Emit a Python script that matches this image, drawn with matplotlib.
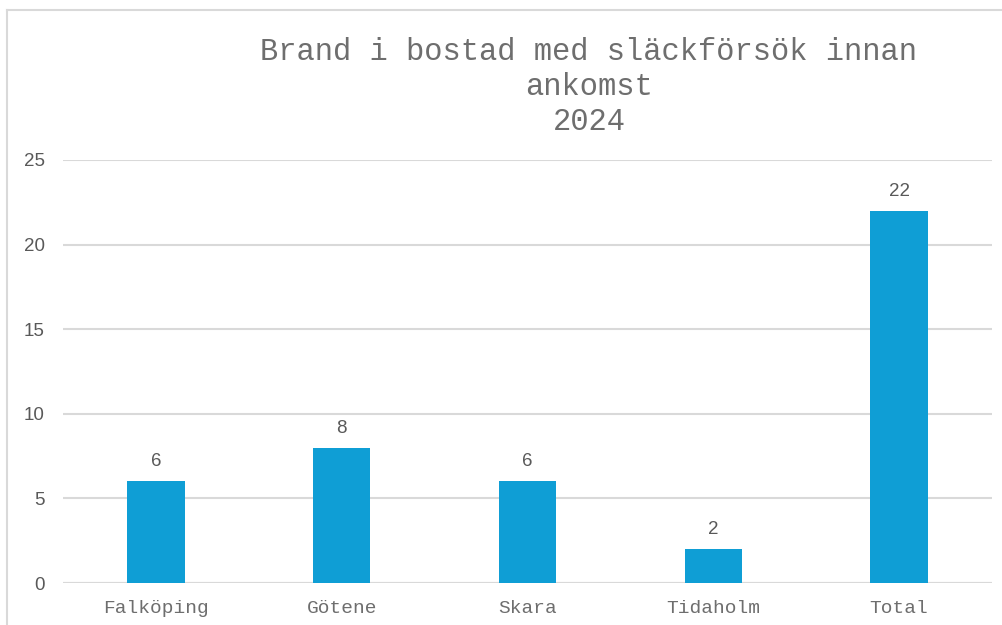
import matplotlib.pyplot as plt
from matplotlib.lines import Line2D

kategorier = ['Falköping', 'Götene', 'Skara', 'Tidaholm', 'Total']
antal = [6, 8, 6, 2, 22]
y_ticks = [0, 5, 10, 15, 20, 25]

textfarg = '#595959'
monofarg = '#6e6e6e'
stapelfarg = '#0f9ed5'
rutnat = '#d9d9d9'

fig = plt.figure(figsize=(10.03, 6.25), dpi=100)
ax = fig.add_axes([63 / 1003, 1 - 583 / 625, (992 - 63) / 1003, (583 - 160) / 625])

x = range(len(kategorier))
staplar = ax.bar(x, antal, width=0.31, color=stapelfarg, zorder=3)
for s, v in zip(staplar, antal):
    ax.annotate(str(v), (s.get_x() + s.get_width() / 2, v), xytext=(0, 8),
                textcoords='offset points', ha='center', va='bottom',
                fontsize=13.5, color=textfarg, family='Liberation Sans')

ax.set_xlim(-0.5, len(kategorier) - 0.5)
ax.set_ylim(0, 25)
ax.set_yticks(y_ticks)
ax.set_xticks(list(x))
ax.set_xticklabels(kategorier, family='Liberation Mono', fontsize=14, color=monofarg)
ax.tick_params(axis='x', length=0, pad=12)
ax.tick_params(axis='y', length=0, pad=13, labelsize=13.5, labelcolor=textfarg)
for lbl in ax.get_yticklabels():
    lbl.set_family('Liberation Sans')

ax.yaxis.grid(True, color=rutnat, linewidth=1.5, zorder=0)
for sida in ['top', 'right', 'left', 'bottom']:
    ax.spines[sida].set_visible(False)
ax.axhline(0, color=rutnat, linewidth=1.5, zorder=2)

# titel i tre rader
titel = ['Brand i bostad med släckförsök innan', 'ankomst', '2024']
for i, rad in enumerate(titel):
    fig.text(589 / 1003, 1 - (52 + 35 * i) / 625, rad, ha='center', va='center',
             family='Liberation Mono', fontsize=22, color=monofarg)

# ram runt diagrammet
fig.add_artist(Line2D([7 / 1003, 7 / 1003], [0, 1 - 10 / 625], color=rutnat, lw=1.5))
fig.add_artist(Line2D([7 / 1003, 1], [1 - 10 / 625, 1 - 10 / 625], color=rutnat, lw=1.5))

plt.savefig('out.png', dpi=100)
